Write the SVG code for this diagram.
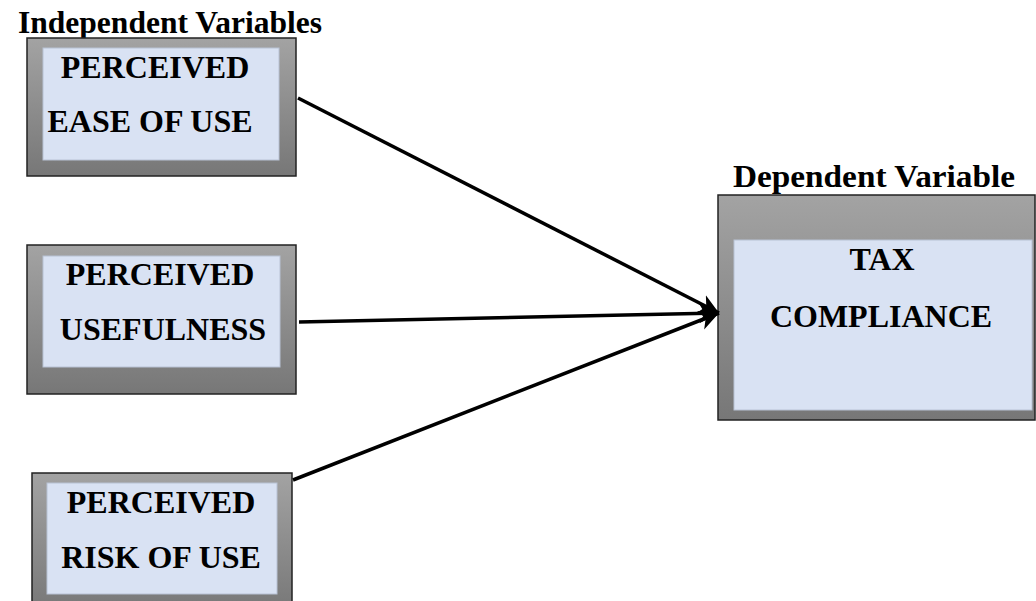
<svg xmlns="http://www.w3.org/2000/svg" width="1036" height="601" viewBox="0 0 1036 601">
<style>
.outer{stroke:#222;stroke-width:1.5;fill:url(#g)}
.inner{fill:#d9e2f3;stroke:#b8c2d4;stroke-width:1}
.t{font-family:"Liberation Serif","Times New Roman",serif;font-weight:bold;font-size:32px;fill:#000;text-anchor:middle}
.h{font-family:"Liberation Serif","Times New Roman",serif;font-weight:bold;font-size:32px;fill:#000}
.c{stroke:#000;stroke-width:3.5;fill:none;marker-end:url(#ah)}
</style>
<defs>
<linearGradient id="g" x1="0" y1="0" x2="0" y2="1">
<stop offset="0" stop-color="#a3a3a3"/>
<stop offset="1" stop-color="#777"/>
</linearGradient>
<marker id="ah" markerUnits="userSpaceOnUse" markerWidth="22" markerHeight="22" viewBox="0 0 20 20" refX="18" refY="10" orient="auto">
<path d="M0,1 L18,10 L0,19 L5,10 z" fill="#000"/>
</marker>
</defs>
<rect width="1036" height="601" fill="#fff"/>
<text class="h" x="18" y="33" textLength="304" lengthAdjust="spacingAndGlyphs">Independent Variables</text>
<text class="h" x="733" y="187" textLength="282" lengthAdjust="spacingAndGlyphs">Dependent Variable</text>
<g id="node-peou">
<rect class="outer" x="27" y="38" width="269" height="138"/>
<rect class="inner" x="43" y="48" width="236" height="112"/>
<text class="t" x="155" y="78">PERCEIVED</text>
<text class="t" x="150" y="132">EASE OF USE</text>
</g>
<g id="node-pu">
<rect class="outer" x="27" y="245" width="269" height="149"/>
<rect class="inner" x="43" y="256" width="237" height="111"/>
<text class="t" x="160" y="285">PERCEIVED</text>
<text class="t" x="163" y="340">USEFULNESS</text>
</g>
<g id="node-pru">
<rect class="outer" x="32" y="473" width="260" height="140"/>
<rect class="inner" x="47" y="483" width="230" height="111"/>
<text class="t" x="161" y="513">PERCEIVED</text>
<text class="t" x="161" y="568">RISK OF USE</text>
</g>
<g id="node-tc">
<rect class="outer" x="718" y="195" width="317" height="225"/>
<rect class="inner" x="734" y="240" width="298" height="170"/>
<text class="t" x="882" y="270">TAX</text>
<text class="t" x="881" y="327">COMPLIANCE</text>
</g>
<g id="connectors">
<line class="c" x1="298" y1="98" x2="719" y2="313"/>
<line class="c" x1="299" y1="322" x2="719" y2="313"/>
<line class="c" x1="293" y1="480" x2="719" y2="313"/>
</g>
</svg>
